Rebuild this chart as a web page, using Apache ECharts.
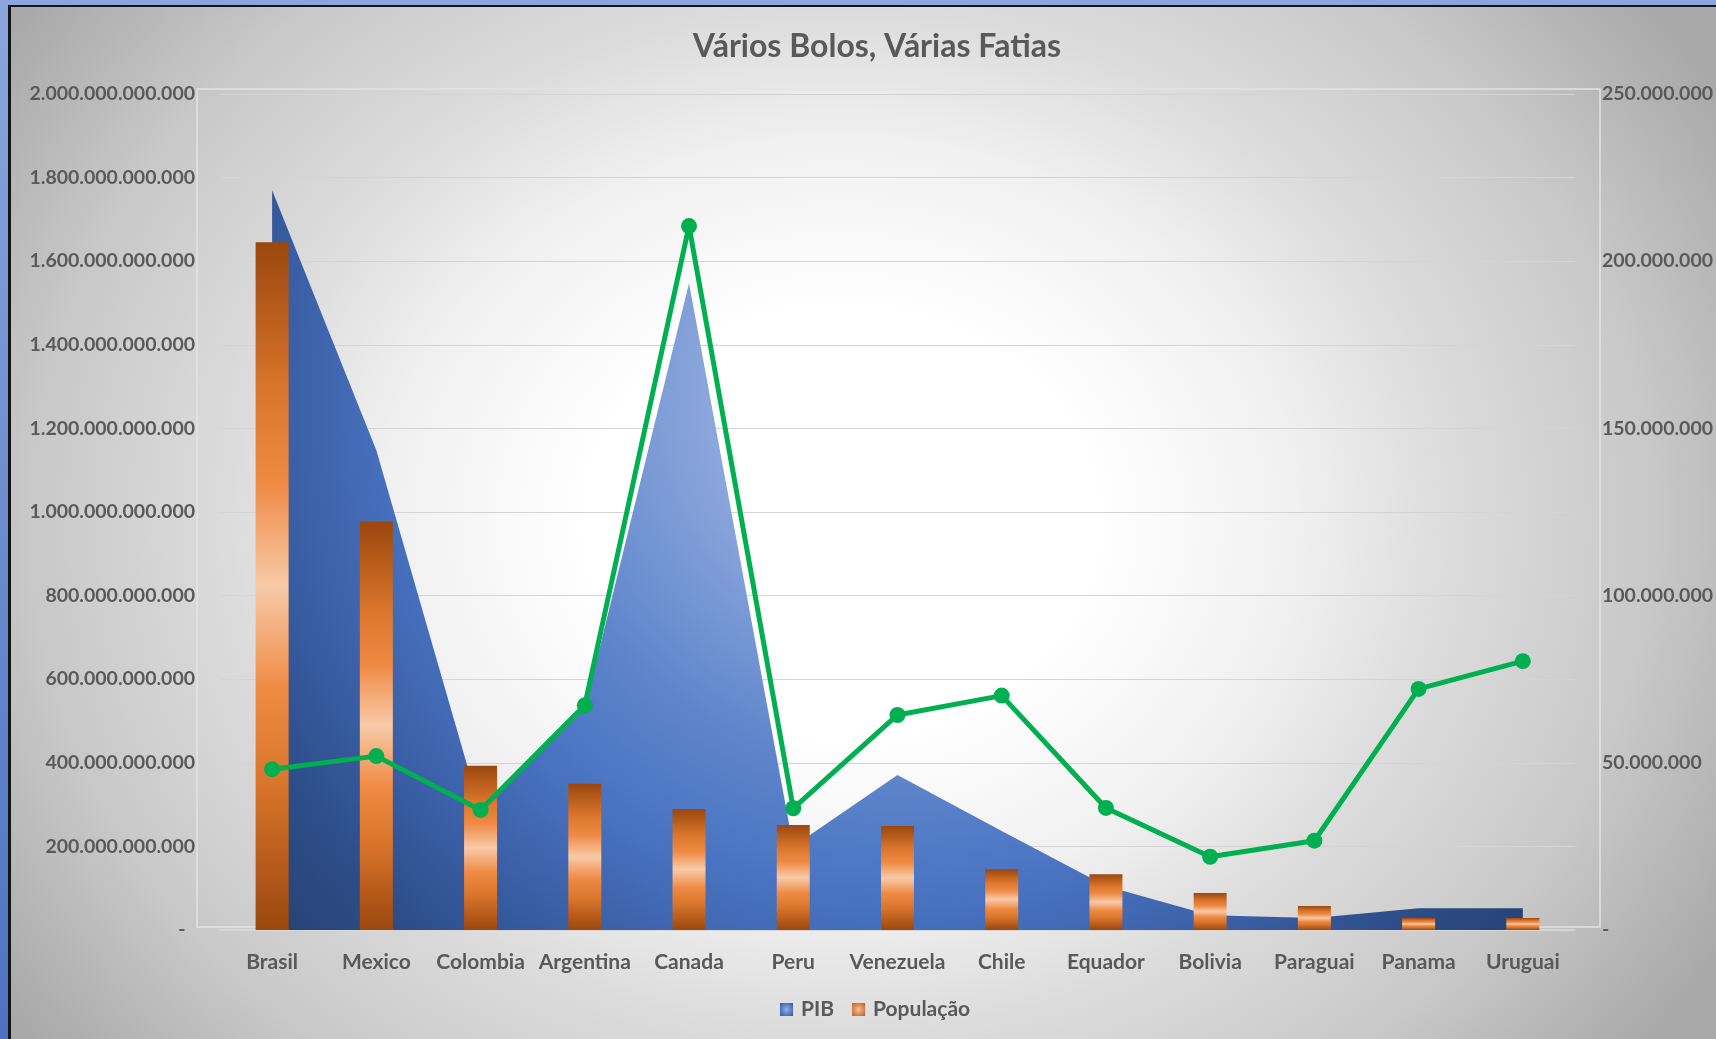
<!DOCTYPE html>
<html>
<head>
<meta charset="utf-8">
<script src="https://cdn.jsdelivr.net/npm/echarts@6/dist/echarts.min.js"></script>
<style>
  html, body { margin: 0; padding: 0; width: 1716px; height: 1039px; overflow: hidden;
    background: linear-gradient(180deg, #8aa6dc 0%, #4d72c2 100%); }
  #bg { position: absolute; left: 8px; top: 5px; width: 1720px; height: 1050px;
    border-left: 3px solid #151515; border-top: 2px solid #151515;
    background: radial-gradient(ellipse 1015px 853px at 830px 515px,
      #ffffff 0%, #ffffff 25%, #f0f0f0 45%, #dcdcdc 60%, #c8c8c8 80%, #a9a9a9 100%); }
  #chart { position: absolute; left: 0; top: 0; width: 1716px; height: 1039px; }
</style>
</head>
<body>
<div id="bg"></div>
<div id="chart"></div>
<script>
const categorias = ['Brasil', 'Mexico', 'Colombia', 'Argentina', 'Canada', 'Peru', 'Venezuela', 'Chile', 'Equador', 'Bolivia', 'Paraguai', 'Panama', 'Uruguai'];
const pib = [1770e9, 1148e9, 283e9, 530e9, 1547e9, 200e9, 371e9, 237e9, 105e9, 35e9, 29e9, 52e9, 52e9];
const populacao = [205.7e6, 122.1e6, 49.1e6, 43.7e6, 36.2e6, 31.4e6, 31.1e6, 18.2e6, 16.7e6, 11.1e6, 7.2e6, 3.6e6, 3.6e6];
const linhaVerde = [48.1e6, 52.0e6, 35.9e6, 67.2e6, 210.5e6, 36.4e6, 64.3e6, 70.1e6, 36.5e6, 21.9e6, 26.7e6, 72.1e6, 80.4e6];
const ticksEsq = { min: 0, max: 2000e9, interval: 200e9 };
const ticksDir = { min: 0, max: 250e6, interval: 50e6 };

function fmt(v) {
  if (v === 0) return '-  ';
  return String(Math.round(v)).replace(/\B(?=(\d{3})+(?!\d))/g, '.');
}

const txt = '#595959';
const font = 'Lato';

const chart = echarts.init(document.getElementById('chart'), null, { renderer: 'canvas' });

const barGrad = new echarts.graphic.LinearGradient(0, 0, 0, 1, [
  { offset: 0, color: '#9b470e' },
  { offset: 0.22, color: '#db762d' },
  { offset: 0.35, color: '#ef8a44' },
  { offset: 0.5, color: '#f8caa8' },
  { offset: 0.65, color: '#ef8a44' },
  { offset: 0.78, color: '#db762d' },
  { offset: 1, color: '#9b470e' }
]);

const areaGrad = {
  type: 'radial', x: 900, y: 400, r: 820, global: true,
  colorStops: [
    { offset: 0, color: '#b4c7ec' },
    { offset: 0.25, color: '#88a4da' },
    { offset: 0.45, color: '#5f86cc' },
    { offset: 0.6, color: '#4a74c2' },
    { offset: 0.75, color: '#3a5fa6' },
    { offset: 0.88, color: '#2d4d88' },
    { offset: 1, color: '#274375' }
  ]
};

chart.setOption({
  backgroundColor: 'transparent',
  animation: false,
  title: {
    text: 'Vários Bolos, Várias Fatias',
    left: 872, top: 26, textAlign: 'center',
    textStyle: { fontFamily: font, fontWeight: 'bold', fontSize: 32, color: txt }
  },
  legend: {
    data: [
      { name: 'PIB', itemStyle: { color: { type: 'radial', x: 0.5, y: 0.5, r: 0.7, colorStops: [{ offset: 0, color: '#8fb0ea' }, { offset: 1, color: '#2f55a5' }] } } },
      { name: 'População', itemStyle: { color: { type: 'radial', x: 0.5, y: 0.5, r: 0.7, colorStops: [{ offset: 0, color: '#f8c09a' }, { offset: 1, color: '#c55a11' }] } } }
    ],
    left: 775, top: 994,
    icon: 'rect', itemWidth: 13, itemHeight: 13, itemGap: 18,
    textStyle: { fontFamily: font, fontWeight: 'bold', fontSize: 21, color: txt, padding: [0, 0, 0, 3] }
  },
  graphic: [{
    type: 'rect', z: 1, silent: true,
    shape: { x: 197, y: 89, width: 1403, height: 838 },
    style: { fill: null, stroke: '#e4e4e4', lineWidth: 1.5 }
  }],
  grid: { left: 220, right: 137, top: 94, bottom: 109 },
  xAxis: {
    type: 'category', data: categorias, boundaryGap: true,
    axisLine: { lineStyle: { color: '#d9d9d9', width: 1.5 } },
    axisTick: { show: false },
    axisLabel: { fontFamily: font, fontWeight: 'bold', fontSize: 21, color: txt, margin: 22, interval: 0 }
  },
  yAxis: [{
    type: 'value', min: ticksEsq.min, max: ticksEsq.max, interval: ticksEsq.interval,
    axisLine: { show: false }, axisTick: { show: false },
    splitLine: { lineStyle: { color: '#d4d4d4', width: 1.2 } },
    axisLabel: { formatter: fmt, fontFamily: font, fontWeight: 'bold', fontSize: 19.5, color: txt, margin: 25 }
  }, {
    type: 'value', min: ticksDir.min, max: ticksDir.max, interval: ticksDir.interval,
    axisLine: { show: false }, axisTick: { show: false },
    splitLine: { show: false },
    axisLabel: { formatter: v => v === 0 ? '-' : fmt(v), fontFamily: font, fontWeight: 'bold', fontSize: 19.5, color: txt, margin: 27 }
  }],
  series: [{
    name: 'PIB', type: 'line', yAxisIndex: 0, data: pib,
    symbol: 'none', lineStyle: { width: 0 },
    itemStyle: { color: '#4472c4' },
    areaStyle: { color: areaGrad, opacity: 1 },
    z: 2
  }, {
    name: 'População', type: 'bar', yAxisIndex: 1, data: populacao,
    barWidth: 33,
    itemStyle: { color: barGrad },
    z: 3
  }, {
    name: 'PIB per capita', type: 'line', yAxisIndex: 1, data: linhaVerde,
    symbol: 'circle', symbolSize: 16,
    lineStyle: { color: '#00b050', width: 5 },
    itemStyle: { color: '#00b050' },
    z: 4
  }]
});
</script>
</body>
</html>
